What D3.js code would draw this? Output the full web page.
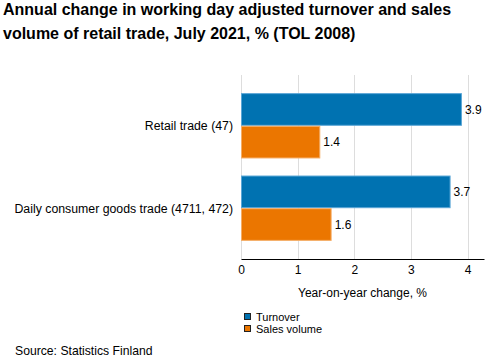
<!DOCTYPE html>
<html><head><meta charset="utf-8">
<script src="https://cdn.jsdelivr.net/npm/d3@7"></script>
<style>body{margin:0;background:#fff}text{font-family:"Liberation Sans",Arial,sans-serif}</style>
</head><body>
<svg id="c" width="493" height="361"></svg>
<script>
const categories = ["Retail trade (47)", "Daily consumer goods trade (4711, 472)"];
const seriesNames = ["Turnover", "Sales volume"];
const turnover = [3.9, 3.7];
const salesVolume = [1.4, 1.6];
const xTicks = [0, 1, 2, 3, 4];
const colors = ["#0072b1", "#eb7600"];
const strokes = ["#5aa6d6", "#f5ad66"];

const svg = d3.select("#c");
const values = [turnover, salesVolume];

svg.append("text").attr("x", 3).attr("y", 15).attr("font-size", 16).attr("font-weight", "bold").attr("fill", "#000")
  .text("Annual change in working day adjusted turnover and sales");
svg.append("text").attr("x", 3).attr("y", 39).attr("font-size", 16).attr("font-weight", "bold").attr("fill", "#000")
  .text("volume of retail trade, July 2021, % (TOL 2008)");

const x = d3.scaleLinear().domain([0, 4.29]).range([241, 484]);
const y = d3.scaleBand().domain(categories).range([75, 259]).paddingInner(0.207).paddingOuter(0.22);
const ys = d3.scaleBand().domain(seriesNames).range([0, y.bandwidth()]);

// grid
svg.append("g").selectAll("line").data(xTicks).join("line")
  .attr("x1", d => Math.round(x(d)) + 0.5).attr("x2", d => Math.round(x(d)) + 0.5)
  .attr("y1", 75).attr("y2", 259).attr("stroke", "#dddddd").attr("stroke-width", 1);

// bars
categories.forEach((cat, i) => {
  const g = svg.append("g").attr("transform", `translate(0,${y(cat)})`);
  seriesNames.forEach((s, j) => {
    const v = values[j][i];
    g.append("rect").attr("x", x(0) + 0.5).attr("y", ys(s) + 0.5)
      .attr("width", x(v) - x(0) - 1).attr("height", ys.bandwidth() - 1)
      .attr("fill", colors[j]).attr("stroke", strokes[j]).attr("stroke-width", 1);
    g.append("text").attr("x", x(v) + 3).attr("y", ys(s) + ys.bandwidth() / 2)
      .attr("dy", "0.35em").attr("font-size", 12).attr("fill", "#000").text(v.toFixed(1));
  });
  svg.append("text").attr("x", 233).attr("y", y(cat) + y.bandwidth() / 2).attr("dy", "0.35em")
    .attr("text-anchor", "end").attr("font-size", 12.3).attr("fill", "#000").text(cat);
});

// axis
const ax = svg.append("g").attr("transform", "translate(0,259)")
  .call(d3.axisBottom(x).tickValues(xTicks).tickFormat(d3.format("d")).tickSize(0).tickPadding(6));
ax.select(".domain").attr("stroke", "#000").attr("stroke-width", 1);
ax.selectAll("text").attr("font-size", 12).attr("fill", "#000").attr("font-family", "Liberation Sans, Arial, sans-serif");

svg.append("text").attr("x", (x.range()[0] + x.range()[1]) / 2).attr("y", 297).attr("text-anchor", "middle")
  .attr("font-size", 12).attr("fill", "#000").text("Year-on-year change, %");

// legend
seriesNames.forEach((s, j) => {
  svg.append("rect").attr("x", 244.5).attr("y", 313.5 + j * 12).attr("width", 6).attr("height", 6)
    .attr("fill", colors[j]).attr("stroke", "#222").attr("stroke-width", 1);
  svg.append("text").attr("x", 256).attr("y", 317 + j * 12).attr("dy", "0.35em")
    .attr("font-size", 11).attr("fill", "#000").text(s);
});

svg.append("text").attr("x", 15).attr("y", 355).attr("font-size", 12.2).attr("fill", "#000").text("Source: Statistics Finland");
</script>
</body></html>
